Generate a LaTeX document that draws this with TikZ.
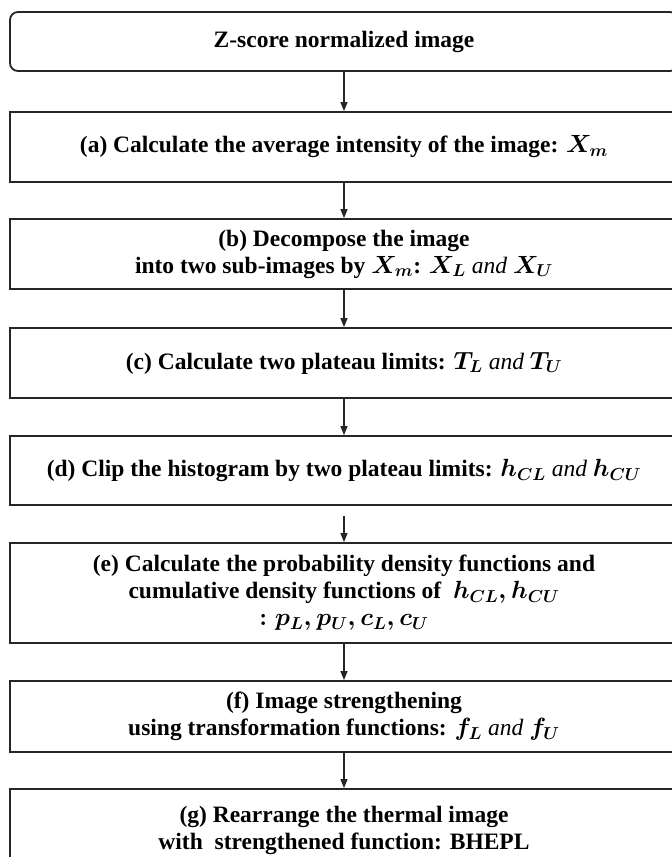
\documentclass[tikz,border=0pt]{standalone}
\usepackage{fontspec}
\setmainfont{Liberation Serif}
\usepackage{amsmath}
\usetikzlibrary{arrows.meta}

\begin{document}
\begin{tikzpicture}[
  x=1pt, y=-1pt,
  stage/.style={draw=black!85, line width=1.8pt, fill=white, rectangle,
    minimum width=668pt, align=center, inner sep=0pt,
    font=\fontsize{23.5}{27}\selectfont\bfseries\boldmath},
  start/.style={stage, rounded corners=8pt},
  flow/.style={draw=black!85, line width=1.3pt, -{Triangle[length=9pt,width=7pt]}}
]
\useasboundingbox (0,0) rectangle (672,857);
\node[start, minimum height=59pt] (zscore) at (344,41.5) {Z-score normalized image};
\node[stage, minimum height=70pt] (avg) at (344,147)
  {(a) Calculate the average intensity of the image: $X_m$};
\node[stage, minimum height=70pt] (split) at (344,254)
  {(b) Decompose the image\\into two sub-images by $X_m$: $X_L$ \textit{\mdseries and} $X_U$};
\node[stage, minimum height=70pt] (limit) at (344,363)
  {(c) Calculate two plateau limits: $T_L$ \textit{\mdseries and} $T_U$};
\node[stage, minimum height=69pt] (clip) at (344,470.5)
  {(d) Clip the histogram by two plateau limits: $h_{CL}$ \textit{\mdseries and} $h_{CU}$};
\node[stage, minimum height=100pt] (pdf) at (344,593)
  {(e) Calculate the probability density functions and\\cumulative density functions of~ $h_{CL}, h_{CU}$\\$:p_L, p_U, c_L, c_U$};
\node[stage, minimum height=71pt] (trans) at (344,716.5)
  {(f) Image strengthening\\using transformation functions: $f_L$ \textit{\mdseries and} $f_U$};
\node[stage, minimum height=82pt] (bhepl) at (344,830)
  {(g) Rearrange the thermal image\\with~ strengthened function: BHEPL};

% arrows between the stages
\foreach \a/\b in {zscore/avg, avg/split, split/limit, limit/clip, pdf/trans, trans/bhepl}
  \draw[flow] (\a) -- (\b);
\draw[flow, shorten <=10pt] (clip) -- (pdf);
\end{tikzpicture}
\end{document}
